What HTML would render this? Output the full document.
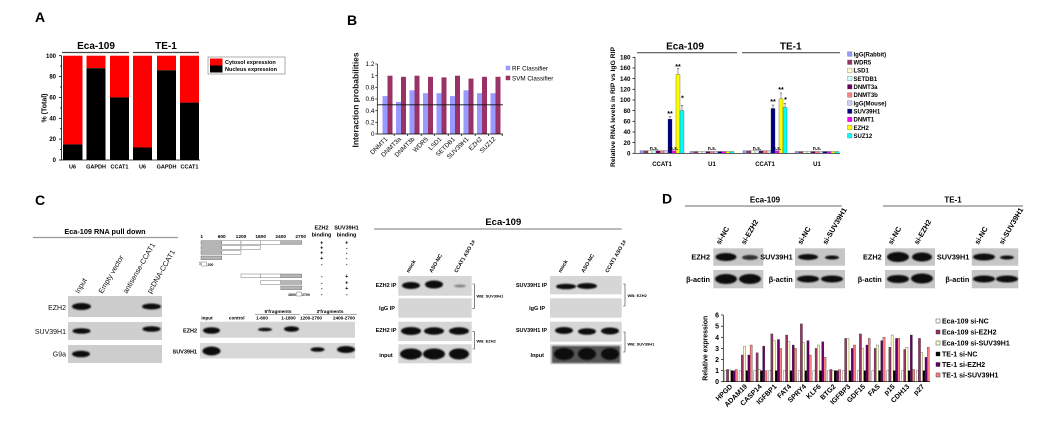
<!DOCTYPE html>
<html><head><meta charset="utf-8"><style>
html,body{margin:0;padding:0;background:#fff;}
svg{display:block;font-family:"Liberation Sans",Arial,sans-serif;}
</style></head><body>
<svg width="1057" height="421" viewBox="0 0 1057 421" xmlns="http://www.w3.org/2000/svg">
<defs>
<filter id="bl" x="-50%" y="-80%" width="200%" height="260%"><feGaussianBlur stdDeviation="0.9"/></filter>
<filter id="bl2" x="-50%" y="-80%" width="200%" height="260%"><feGaussianBlur stdDeviation="0.5"/></filter>
</defs>
<rect width="1057" height="421" fill="#fff"/>

<!-- ============ PANEL A ============ -->
<text x="35" y="22" font-size="14" font-weight="bold">A</text>
<g font-weight="bold" text-anchor="middle" font-size="10">
<text x="96" y="49">Eca-109</text>
<text x="166" y="49">TE-1</text>
</g>
<line x1="62" y1="52.5" x2="129" y2="52.5" stroke="#444" stroke-width="1.2"/>
<line x1="133" y1="52.5" x2="199" y2="52.5" stroke="#444" stroke-width="1.2"/>
<g>
<rect x="63" y="55.7" width="19.5" height="88.7" fill="#ff0000"/><rect x="63" y="144.4" width="19.5" height="15.6" fill="#000"/>
<rect x="86.5" y="55.7" width="19" height="12.5" fill="#ff0000"/><rect x="86.5" y="68.2" width="19" height="91.8" fill="#000"/>
<rect x="110" y="55.7" width="19" height="41.7" fill="#ff0000"/><rect x="110" y="97.4" width="19" height="62.6" fill="#000"/>
<rect x="133" y="55.7" width="19" height="91.8" fill="#ff0000"/><rect x="133" y="147.5" width="19" height="12.5" fill="#000"/>
<rect x="157" y="55.7" width="19" height="14.6" fill="#ff0000"/><rect x="157" y="70.3" width="19" height="89.7" fill="#000"/>
<rect x="180" y="55.7" width="19" height="46.9" fill="#ff0000"/><rect x="180" y="102.6" width="19" height="57.4" fill="#000"/>
</g>
<g stroke="#000" stroke-width="0.8">
<line x1="61.5" y1="55.7" x2="61.5" y2="160"/>
<line x1="61.5" y1="160" x2="200" y2="160"/>
<line x1="59" y1="55.7" x2="61.5" y2="55.7"/><line x1="59" y1="76.6" x2="61.5" y2="76.6"/>
<line x1="59" y1="97.4" x2="61.5" y2="97.4"/><line x1="59" y1="118.3" x2="61.5" y2="118.3"/>
<line x1="59" y1="139.1" x2="61.5" y2="139.1"/><line x1="59" y1="160" x2="61.5" y2="160"/>
<line x1="60" y1="66.1" x2="61.5" y2="66.1"/><line x1="60" y1="87" x2="61.5" y2="87"/>
<line x1="60" y1="107.9" x2="61.5" y2="107.9"/><line x1="60" y1="128.7" x2="61.5" y2="128.7"/>
<line x1="60" y1="149.6" x2="61.5" y2="149.6"/>
</g>
<g font-size="6" font-weight="bold" text-anchor="end">
<text x="56" y="57.8">100</text><text x="56" y="78.7">80</text><text x="56" y="99.5">60</text>
<text x="56" y="120.4">40</text><text x="56" y="141.2">20</text><text x="56" y="162.1">0</text>
</g>
<g font-size="5.5" font-weight="bold" text-anchor="middle">
<text x="72.5" y="168.5">U6</text><text x="96" y="168.5">GAPDH</text><text x="119.5" y="168.5">CCAT1</text>
<text x="142.5" y="168.5">U6</text><text x="166.5" y="168.5">GAPDH</text><text x="189.5" y="168.5">CCAT1</text>
</g>
<text transform="translate(46.5,108) rotate(-90)" text-anchor="middle" font-size="7" font-weight="bold">% (Total)</text>
<rect x="208" y="57" width="77" height="17" fill="#fff" stroke="#777" stroke-width="0.6"/>
<rect x="210" y="58.5" width="12.5" height="7" fill="#ff0000"/>
<rect x="210" y="65.5" width="12.5" height="7" fill="#000"/>
<g font-size="5.5" font-weight="bold">
<text x="225" y="63.8">Cytosol  expression</text>
<text x="225" y="70.8">Nucleus expression</text>
</g>

<!-- ============ PANEL B left ============ -->
<text x="347" y="25" font-size="14" font-weight="bold">B</text>
<g>
<rect x="382.5" y="96.1" width="5" height="37.9" fill="#9999ff"/><rect x="387.5" y="75.7" width="5" height="58.3" fill="#993366"/>
<rect x="396" y="101.9" width="5" height="32.1" fill="#9999ff"/><rect x="401" y="76.8" width="5" height="57.2" fill="#993366"/>
<rect x="409.5" y="90.3" width="5" height="43.7" fill="#9999ff"/><rect x="414.5" y="75.7" width="5" height="58.3" fill="#993366"/>
<rect x="423" y="93.2" width="5" height="40.8" fill="#9999ff"/><rect x="428" y="76.8" width="5" height="57.2" fill="#993366"/>
<rect x="436.5" y="93.2" width="5" height="40.8" fill="#9999ff"/><rect x="441.5" y="77.4" width="5" height="56.6" fill="#993366"/>
<rect x="450" y="96.1" width="5" height="37.9" fill="#9999ff"/><rect x="455" y="75.7" width="5" height="58.3" fill="#993366"/>
<rect x="463.5" y="90.3" width="5" height="43.7" fill="#9999ff"/><rect x="468.5" y="78.6" width="5" height="55.4" fill="#993366"/>
<rect x="477" y="93.2" width="5" height="40.8" fill="#9999ff"/><rect x="482" y="76.8" width="5" height="57.2" fill="#993366"/>
<rect x="490.5" y="93.2" width="5" height="40.8" fill="#9999ff"/><rect x="495.5" y="76.8" width="5" height="57.2" fill="#993366"/>
</g>
<g stroke="#000" stroke-width="0.7">
<line x1="377.3" y1="64" x2="377.3" y2="134"/>
<line x1="377.3" y1="134" x2="503" y2="134"/>
<line x1="375.3" y1="64" x2="377.3" y2="64"/><line x1="375.3" y1="75.7" x2="377.3" y2="75.7"/>
<line x1="375.3" y1="87.3" x2="377.3" y2="87.3"/><line x1="375.3" y1="99" x2="377.3" y2="99"/>
<line x1="375.3" y1="110.7" x2="377.3" y2="110.7"/><line x1="375.3" y1="122.3" x2="377.3" y2="122.3"/>
<line x1="375.3" y1="134" x2="377.3" y2="134"/>
<line x1="394.2" y1="134" x2="394.2" y2="136"/><line x1="407.7" y1="134" x2="407.7" y2="136"/>
<line x1="421.2" y1="134" x2="421.2" y2="136"/><line x1="434.7" y1="134" x2="434.7" y2="136"/>
<line x1="448.2" y1="134" x2="448.2" y2="136"/><line x1="461.7" y1="134" x2="461.7" y2="136"/>
<line x1="475.2" y1="134" x2="475.2" y2="136"/><line x1="488.7" y1="134" x2="488.7" y2="136"/>
<line x1="502.2" y1="134" x2="502.2" y2="136"/>
</g>
<line x1="377.3" y1="104.8" x2="503" y2="104.8" stroke="#111" stroke-width="0.8"/>
<g font-size="6.5" text-anchor="end">
<text x="374.5" y="66.2">1.2</text><text x="374.5" y="77.9">1</text><text x="374.5" y="89.5">0.8</text>
<text x="374.5" y="101.2">0.6</text><text x="374.5" y="112.9">0.4</text><text x="374.5" y="124.5">0.2</text>
<text x="374.5" y="136.2">0</text>
</g>
<g font-size="6.3" text-anchor="end">
<text transform="translate(388,139.5) rotate(-45)">DNMT1</text>
<text transform="translate(401.5,139.5) rotate(-45)">DNMT3a</text>
<text transform="translate(415,139.5) rotate(-45)">DNMT3b</text>
<text transform="translate(428.5,139.5) rotate(-45)">WDR5</text>
<text transform="translate(442,139.5) rotate(-45)">LSD1</text>
<text transform="translate(455.5,139.5) rotate(-45)">SETDB1</text>
<text transform="translate(469,139.5) rotate(-45)">SUV39H1</text>
<text transform="translate(482.5,139.5) rotate(-45)">EZH2</text>
<text transform="translate(496,139.5) rotate(-45)">SUZ12</text>
</g>
<text transform="translate(358.5,100) rotate(-90)" text-anchor="middle" font-size="8.5" font-weight="bold" fill="#111" textLength="95" lengthAdjust="spacingAndGlyphs">Interaction probabilities</text>
<rect x="505.7" y="65.7" width="4.5" height="4.5" fill="#9999ff"/>
<rect x="505.7" y="75.7" width="4.5" height="4.5" fill="#993366"/>
<g font-size="6.3">
<text x="512" y="70.3">RF Classifier</text>
<text x="512" y="80.3">SVM Classifier</text>
</g>

<!-- ============ PANEL B right ============ -->
<g font-weight="bold" text-anchor="middle" font-size="10">
<text x="685" y="49.5">Eca-109</text>
<text x="790.7" y="49.5">TE-1</text>
</g>
<line x1="637" y1="52.7" x2="737" y2="52.7" stroke="#555" stroke-width="1.2"/>
<line x1="742" y1="52.7" x2="840" y2="52.7" stroke="#555" stroke-width="1.2"/>
<g transform="translate(640,153.3) scale(1,-1)" stroke="#333" stroke-width="0.3">
<rect x="0" y="0" width="4" height="2.5" fill="#9999ff"/><rect x="4" y="0" width="4" height="2.5" fill="#993366"/>
<rect x="8" y="0" width="4" height="2.5" fill="#ffffcc"/><rect x="12" y="0" width="4" height="2.5" fill="#ccffff"/>
<rect x="16" y="0" width="4" height="2.5" fill="#660066"/><rect x="20" y="0" width="4" height="2.5" fill="#ff8080"/>
<rect x="24" y="0" width="4" height="2.5" fill="#ccccff"/><rect x="28" y="0" width="4" height="34.1" fill="#000080"/>
<rect x="32" y="0" width="4" height="2.5" fill="#ff00ff"/><rect x="36" y="0" width="4" height="78.9" fill="#ffff00"/>
<rect x="40" y="0" width="4" height="42.7" fill="#00ffff"/>
</g>
<g transform="translate(690,153.3) scale(1,-1)" stroke="#333" stroke-width="0.3">
<rect x="0" y="0" width="4" height="1.8" fill="#9999ff"/><rect x="4" y="0" width="4" height="1.8" fill="#993366"/>
<rect x="8" y="0" width="4" height="1.8" fill="#ffffcc"/><rect x="12" y="0" width="4" height="1.8" fill="#ccffff"/>
<rect x="16" y="0" width="4" height="1.8" fill="#660066"/><rect x="20" y="0" width="4" height="1.8" fill="#ff8080"/>
<rect x="24" y="0" width="4" height="1.8" fill="#ccccff"/><rect x="28" y="0" width="4" height="1.8" fill="#000080"/>
<rect x="32" y="0" width="4" height="1.8" fill="#ff00ff"/><rect x="36" y="0" width="4" height="1.8" fill="#ffff00"/>
<rect x="40" y="0" width="4" height="1.8" fill="#00ffff"/>
</g>
<g transform="translate(743,153.3) scale(1,-1)" stroke="#333" stroke-width="0.3">
<rect x="0" y="0" width="4" height="2.5" fill="#9999ff"/><rect x="4" y="0" width="4" height="2.5" fill="#993366"/>
<rect x="8" y="0" width="4" height="2.5" fill="#ffffcc"/><rect x="12" y="0" width="4" height="2.5" fill="#ccffff"/>
<rect x="16" y="0" width="4" height="2.5" fill="#660066"/><rect x="20" y="0" width="4" height="2.5" fill="#ff8080"/>
<rect x="24" y="0" width="4" height="2.5" fill="#ccccff"/><rect x="28" y="0" width="4" height="44.8" fill="#000080"/>
<rect x="32" y="0" width="4" height="2.5" fill="#ff00ff"/><rect x="36" y="0" width="4" height="54.4" fill="#ffff00"/>
<rect x="40" y="0" width="4" height="45.9" fill="#00ffff"/>
</g>
<g transform="translate(795,153.3) scale(1,-1)" stroke="#333" stroke-width="0.3">
<rect x="0" y="0" width="4" height="1.8" fill="#9999ff"/><rect x="4" y="0" width="4" height="1.8" fill="#993366"/>
<rect x="8" y="0" width="4" height="1.8" fill="#ffffcc"/><rect x="12" y="0" width="4" height="1.8" fill="#ccffff"/>
<rect x="16" y="0" width="4" height="1.8" fill="#660066"/><rect x="20" y="0" width="4" height="1.8" fill="#ff8080"/>
<rect x="24" y="0" width="4" height="1.8" fill="#ccccff"/><rect x="28" y="0" width="4" height="1.8" fill="#000080"/>
<rect x="32" y="0" width="4" height="1.8" fill="#ff00ff"/><rect x="36" y="0" width="4" height="1.8" fill="#ffff00"/>
<rect x="40" y="0" width="4" height="1.8" fill="#00ffff"/>
</g>
<g stroke="#333" stroke-width="0.5">
<path d="M670 119.2V116.5M668.8 116.5H671.2"/>
<path d="M678 74.4V68.5M676.8 68.5H679.2"/>
<path d="M682 110.6V105.3M680.8 105.3H683.2"/>
<path d="M773 108.5V105M771.8 105H774.2"/>
<path d="M781 98.9V93M779.8 93H782.2"/>
<path d="M785 107.4V103.2M783.8 103.2H786.2"/>
</g>
<g font-size="7" font-weight="bold" text-anchor="middle">
<text x="670" y="116">**</text><text x="678" y="69">**</text><text x="682.5" y="100.5">*</text>
<text x="773" y="104">**</text><text x="781" y="92">**</text><text x="785.5" y="102">*</text>
</g>
<g font-size="5" font-weight="bold" text-anchor="middle">
<text x="654" y="150">n.s.</text><text x="674" y="150">n.s.</text><text x="712" y="150">n.s.</text>
<text x="757" y="150">n.s.</text><text x="777" y="150">n.s.</text><text x="817" y="150">n.s.</text>
</g>
<g stroke="#000" stroke-width="0.7">
<line x1="635" y1="57.3" x2="635" y2="153.3"/>
<line x1="635" y1="153.3" x2="840" y2="153.3"/>
<line x1="632.5" y1="57.3" x2="635" y2="57.3"/><line x1="632.5" y1="68" x2="635" y2="68"/>
<line x1="632.5" y1="78.6" x2="635" y2="78.6"/><line x1="632.5" y1="89.3" x2="635" y2="89.3"/>
<line x1="632.5" y1="100" x2="635" y2="100"/><line x1="632.5" y1="110.6" x2="635" y2="110.6"/>
<line x1="632.5" y1="121.3" x2="635" y2="121.3"/><line x1="632.5" y1="132" x2="635" y2="132"/>
<line x1="632.5" y1="142.6" x2="635" y2="142.6"/><line x1="632.5" y1="153.3" x2="635" y2="153.3"/>
</g>
<g font-size="6.3" font-weight="bold" text-anchor="end">
<text x="630.5" y="59.5">180</text><text x="630.5" y="70.2">160</text><text x="630.5" y="80.8">140</text>
<text x="630.5" y="91.5">120</text><text x="630.5" y="102.2">100</text><text x="630.5" y="112.8">80</text>
<text x="630.5" y="123.5">60</text><text x="630.5" y="134.2">40</text><text x="630.5" y="144.8">20</text>
<text x="630.5" y="155.5">0</text>
</g>
<g font-size="6" font-weight="bold" text-anchor="middle">
<text x="662" y="166">CCAT1</text><text x="712" y="166">U1</text>
<text x="765" y="166">CCAT1</text><text x="817" y="166">U1</text>
</g>
<text transform="translate(615,107) rotate(-90)" text-anchor="middle" font-size="6.3" font-weight="bold" textLength="120" lengthAdjust="spacingAndGlyphs">Relative RNA levels in RIP vs IgG RIP</text>
<g stroke="#555" stroke-width="0.3">
<rect x="847.5" y="51.8" width="4.5" height="4.5" fill="#9999ff"/>
<rect x="847.5" y="60" width="4.5" height="4.5" fill="#993366"/>
<rect x="847.5" y="68.1" width="4.5" height="4.5" fill="#ffffcc"/>
<rect x="847.5" y="76.3" width="4.5" height="4.5" fill="#ccffff"/>
<rect x="847.5" y="84.5" width="4.5" height="4.5" fill="#660066"/>
<rect x="847.5" y="92.7" width="4.5" height="4.5" fill="#ff8080"/>
<rect x="847.5" y="100.8" width="4.5" height="4.5" fill="#ccccff"/>
<rect x="847.5" y="109" width="4.5" height="4.5" fill="#000080"/>
<rect x="847.5" y="117.2" width="4.5" height="4.5" fill="#ff00ff"/>
<rect x="847.5" y="125.3" width="4.5" height="4.5" fill="#ffff00"/>
<rect x="847.5" y="133.5" width="4.5" height="4.5" fill="#00ffff"/>
</g>
<g font-size="6" font-weight="bold">
<text x="853.5" y="56.3">IgG(Rabbit)</text>
<text x="853.5" y="64.5">WDR5</text>
<text x="853.5" y="72.6">LSD1</text>
<text x="853.5" y="80.8">SETDB1</text>
<text x="853.5" y="89">DNMT3a</text>
<text x="853.5" y="97.2">DNMT3b</text>
<text x="853.5" y="105.3">IgG(Mouse)</text>
<text x="853.5" y="113.5">SUV39H1</text>
<text x="853.5" y="121.7">DNMT1</text>
<text x="853.5" y="129.8">EZH2</text>
<text x="853.5" y="138">SUZ12</text>
</g>

<!-- ============ PANEL C left ============ -->
<text x="35" y="205" font-size="14" font-weight="bold">C</text>
<text x="105" y="234" text-anchor="middle" font-size="7.3" font-weight="bold">Eca-109 RNA pull down</text>
<line x1="33" y1="237.5" x2="178" y2="237.5" stroke="#999" stroke-width="1.3"/>
<g font-size="7.3" fill="#111">
<text transform="translate(79,294) rotate(-60)">Input</text>
<text transform="translate(102.5,294) rotate(-60)">Empty vector</text>
<text transform="translate(127,294) rotate(-60)">antisense-CCAT1</text>
<text transform="translate(151,294) rotate(-60)">pcDNA-CCAT1</text>
</g>
<rect x="68" y="296" width="94" height="21" fill="#cccccc"/>
<rect x="68" y="322" width="94" height="18" fill="#cfcfcf"/>
<rect x="68" y="345" width="94" height="18" fill="#cdcdcd"/>
<g fill="#111" filter="url(#bl)">
<ellipse cx="81.5" cy="306.5" rx="9.5" ry="3.5"/>
<ellipse cx="151.5" cy="306.5" rx="9.5" ry="3"/>
<ellipse cx="81.5" cy="331" rx="9" ry="2.8"/>
<ellipse cx="151.5" cy="329" rx="9" ry="2.8"/>
<ellipse cx="81" cy="354" rx="9" ry="3.3"/>
</g>
<g font-size="7" text-anchor="end" fill="#111">
<text x="66" y="310">EZH2</text>
<text x="66" y="334">SUV39H1</text>
<text x="66" y="356.5">G9a</text>
</g>

<!-- ============ PANEL C middle ============ -->
<g font-size="4.8" font-weight="bold" text-anchor="middle">
<text x="201.7" y="238">1</text><text x="221.7" y="238">600</text><text x="241" y="238">1200</text>
<text x="260.7" y="238">1800</text><text x="280.7" y="238">2400</text><text x="300.7" y="238">2700</text>
</g>
<g stroke="#555" stroke-width="0.4">
<rect x="201" y="240.7" width="20.7" height="3.6" fill="#b5b5b5"/><rect x="221.7" y="240.7" width="19.3" height="3.6" fill="#fff"/>
<rect x="241" y="240.7" width="19.7" height="3.6" fill="#fff"/><rect x="260.7" y="240.7" width="20" height="3.6" fill="#fff"/>
<rect x="280.7" y="240.7" width="21" height="3.6" fill="#b5b5b5"/>
<rect x="201" y="245.7" width="20.7" height="3.6" fill="#b5b5b5"/><rect x="221.7" y="245.7" width="19.3" height="3.6" fill="#fff"/>
<rect x="241" y="245.7" width="19.7" height="3.6" fill="#fff"/>
<rect x="201" y="250.7" width="20.7" height="3.6" fill="#b5b5b5"/><rect x="221.7" y="250.7" width="19.3" height="3.6" fill="#fff"/>
<rect x="201" y="256" width="20.7" height="3.6" fill="#b5b5b5"/>
<rect x="201.7" y="262" width="5" height="4" fill="#fff"/>
<rect x="241" y="274" width="19.7" height="3.6" fill="#fff"/><rect x="260.7" y="274" width="20" height="3.6" fill="#fff"/>
<rect x="280.7" y="274" width="21" height="3.6" fill="#b5b5b5"/>
<rect x="260.7" y="280.7" width="20" height="3.6" fill="#fff"/><rect x="280.7" y="280.7" width="21" height="3.6" fill="#b5b5b5"/>
<rect x="280.7" y="286" width="21" height="3.6" fill="#b5b5b5"/>
<rect x="296.7" y="292" width="4.5" height="4" fill="#fff"/>
</g>
<g font-size="3.5" font-weight="bold">
<text x="201" y="264.5" text-anchor="end">1</text><text x="207.5" y="266">200</text>
<text x="296" y="296" text-anchor="end">2600</text><text x="302" y="296">2700</text>
</g>
<g font-size="5.5" font-weight="bold" text-anchor="middle">
<text x="321.5" y="229.5">EZH2</text><text x="321.5" y="236.5">binding</text>
<text x="346.5" y="229.5">SUV39H1</text><text x="346.5" y="236.5">binding</text>
</g>
<g font-size="5.5" font-weight="bold" text-anchor="middle">
<text x="321.7" y="244.3">+</text><text x="346.7" y="244.3">+</text>
<text x="321.7" y="249.3">+</text><text x="346.7" y="249.3">-</text>
<text x="321.7" y="254.3">+</text><text x="346.7" y="254.3">-</text>
<text x="321.7" y="259.8">+</text><text x="346.7" y="259.8">-</text>
<text x="321.7" y="265.8">-</text><text x="346.7" y="265.8">-</text>
<text x="321.7" y="277.8">-</text><text x="346.7" y="277.8">+</text>
<text x="321.7" y="284.3">-</text><text x="346.7" y="284.3">+</text>
<text x="321.7" y="289.8">-</text><text x="346.7" y="289.8">+</text>
<text x="321.7" y="295.8">-</text><text x="346.7" y="295.8">-</text>
</g>
<g font-size="4.8" font-weight="bold" text-anchor="middle">
<text x="278" y="313">5'fragments</text>
<text x="330" y="313">3'fragments</text>
</g>
<line x1="255" y1="314.5" x2="300" y2="314.5" stroke="#555" stroke-width="0.5"/>
<line x1="303" y1="314.5" x2="357" y2="314.5" stroke="#555" stroke-width="0.5"/>
<g font-size="4.6" font-weight="bold" text-anchor="middle">
<text x="207" y="319.6">input</text><text x="236.7" y="319.6">control</text>
<text x="262" y="319.6">1-600</text><text x="288.5" y="319.6">1-1800</text>
<text x="311" y="319.6">1200-2700</text><text x="344" y="319.6">2400-2700</text>
</g>
<rect x="200" y="321.7" width="155" height="16" fill="#d5d5d5"/>
<rect x="200" y="343" width="155" height="15.5" fill="#d8d8d8"/>
<g fill="#111" filter="url(#bl)">
<ellipse cx="211.5" cy="330.5" rx="8.5" ry="3.3"/>
<ellipse cx="265" cy="329.5" rx="7" ry="1.8"/>
<ellipse cx="291.5" cy="329" rx="7.5" ry="2.8"/>
<ellipse cx="211.5" cy="351" rx="9" ry="4.5"/>
<ellipse cx="317.5" cy="349.5" rx="7" ry="2.3"/>
<ellipse cx="346" cy="349.5" rx="9" ry="3.5"/>
</g>
<g font-size="5.5" font-weight="bold" text-anchor="end">
<text x="197" y="332.5">EZH2</text>
<text x="197" y="353.5">SUV39H1</text>
</g>

<!-- ============ PANEL C right ============ -->
<text x="503.3" y="225" text-anchor="middle" font-size="9.5" font-weight="bold">Eca-109</text>
<line x1="374" y1="229" x2="621.7" y2="229" stroke="#777" stroke-width="1"/>
<g font-size="5.2" font-weight="bold">
<text transform="translate(409,273) rotate(-60)">mock</text>
<text transform="translate(432,273) rotate(-60)">ASO-NC</text>
<text transform="translate(457,273) rotate(-60)">CCAT1 ASO 1#</text>
<text transform="translate(561,273) rotate(-60)">mock</text>
<text transform="translate(584,273) rotate(-60)">ASO-NC</text>
<text transform="translate(608,273) rotate(-60)">CCAT1 ASO 1#</text>
</g>
<g fill="#d6d6d6">
<rect x="398.3" y="276" width="73.4" height="19.7"/>
<rect x="398.3" y="298.3" width="73.4" height="19.4"/>
<rect x="398.3" y="321.7" width="73.4" height="19.3"/>
<rect x="398.3" y="344.3" width="73.4" height="19"/>
<rect x="550" y="276" width="71.7" height="18.3"/>
<rect x="550" y="298.3" width="71.7" height="19.4"/>
<rect x="550" y="321.7" width="71.7" height="20"/>
<rect x="550" y="344.3" width="71.7" height="20"/>
</g>
<rect x="552" y="346" width="68" height="17" fill="#555" filter="url(#bl)"/>
<g fill="#111" filter="url(#bl)">
<ellipse cx="411" cy="285.5" rx="9" ry="3.5"/>
<ellipse cx="434" cy="284.5" rx="9" ry="4"/>
<ellipse cx="411" cy="331" rx="10" ry="4"/>
<ellipse cx="434" cy="331" rx="10" ry="3.8"/>
<ellipse cx="459" cy="331" rx="10" ry="3.8"/>
<ellipse cx="411" cy="354" rx="11" ry="5.5"/>
<ellipse cx="434" cy="354" rx="11" ry="5.5"/>
<ellipse cx="459" cy="354" rx="10" ry="5.5"/>
<ellipse cx="566" cy="286.5" rx="10" ry="2.8"/>
<ellipse cx="587" cy="286" rx="10" ry="3"/>
<ellipse cx="564" cy="330.5" rx="9" ry="3.5"/>
<ellipse cx="587" cy="331.5" rx="9" ry="3.3"/>
<ellipse cx="610" cy="331" rx="9" ry="3.5"/>
<ellipse cx="564" cy="354" rx="10" ry="6"/>
<ellipse cx="587" cy="354" rx="9" ry="6"/>
<ellipse cx="610" cy="354" rx="9" ry="6"/>
</g>
<ellipse cx="460" cy="286" rx="6" ry="1.5" fill="#888" filter="url(#bl)"/>
<g font-size="5.5" font-weight="bold" text-anchor="middle">
<text x="386" y="287">EZH2 IP</text>
<text x="387" y="310">IgG IP</text>
<text x="386" y="332">EZH2 IP</text>
<text x="386" y="357">input</text>
</g>
<g font-size="5.5" font-weight="bold" text-anchor="end">
<text x="547" y="287">SUV39H1 IP</text>
<text x="545" y="310">IgG IP</text>
<text x="547" y="332">SUV39H1 IP</text>
<text x="544" y="357">Input</text>
</g>
<g stroke="#333" stroke-width="0.6" fill="none">
<path d="M472.5 284H474.3V308.3H472.5"/>
<path d="M472.5 331.7H474.3V349H472.5"/>
<path d="M623.2 284H625V306H623.2"/>
<path d="M623.2 332H625V352H623.2"/>
</g>
<g font-size="4" font-weight="bold">
<text x="476.5" y="297.5">WB: SUV39H1</text>
<text x="476.5" y="342.5">WB: EZH2</text>
<text x="627.5" y="297">WB: EZH2</text>
<text x="627.5" y="345.5">WB: SUV39H1</text>
</g>

<!-- ============ PANEL D top ============ -->
<text x="662" y="203.5" font-size="14" font-weight="bold">D</text>
<g font-size="8" font-weight="bold" text-anchor="middle">
<text x="765" y="202.5">Eca-109</text>
<text x="953" y="202.5">TE-1</text>
</g>
<line x1="685" y1="206" x2="841.7" y2="206" stroke="#888" stroke-width="1.2"/>
<line x1="883" y1="206" x2="1023" y2="206" stroke="#888" stroke-width="1.2"/>
<g font-size="7.3" font-weight="bold">
<text transform="translate(720,245) rotate(-60)">si-NC</text>
<text transform="translate(745,245) rotate(-60)">si-EZH2</text>
<text transform="translate(801.5,245) rotate(-60)">si-NC</text>
<text transform="translate(826.5,245) rotate(-60)">si-SUV39H1</text>
<text transform="translate(892,245) rotate(-60)">si-NC</text>
<text transform="translate(918,245) rotate(-60)">si-EZH2</text>
<text transform="translate(978.5,245) rotate(-60)">si-NC</text>
<text transform="translate(1003,245) rotate(-60)">si-SUV39H1</text>
</g>
<g fill="#c6c6c6">
<rect x="713.3" y="248.3" width="50" height="17.4"/>
<rect x="713.3" y="270" width="50" height="18.3"/>
<rect x="795" y="248.3" width="50" height="17.4"/>
<rect x="795" y="270" width="50" height="18.3"/>
<rect x="885" y="248.3" width="50" height="17.4"/>
<rect x="885" y="270" width="50" height="18.3"/>
<rect x="971.7" y="248.3" width="46.6" height="17.4"/>
<rect x="971.7" y="270" width="46.6" height="18.3"/>
</g>
<g fill="#111" filter="url(#bl)">
<ellipse cx="726" cy="257" rx="10.5" ry="4"/>
<ellipse cx="726" cy="279" rx="11" ry="5"/>
<ellipse cx="750" cy="279" rx="11" ry="5"/>
<ellipse cx="808" cy="257" rx="10" ry="3"/>
<ellipse cx="832" cy="257.5" rx="7" ry="2"/>
<ellipse cx="808" cy="279" rx="11" ry="3.5"/>
<ellipse cx="832" cy="279" rx="11" ry="3.5"/>
<ellipse cx="898" cy="257" rx="11" ry="5"/>
<ellipse cx="922" cy="257" rx="10" ry="4.5"/>
<ellipse cx="898" cy="279" rx="11" ry="4"/>
<ellipse cx="922" cy="278.5" rx="11" ry="5"/>
<ellipse cx="984" cy="257" rx="11" ry="3.5"/>
<ellipse cx="1007" cy="257.5" rx="7" ry="2"/>
<ellipse cx="984" cy="279" rx="11" ry="3.5"/>
<ellipse cx="1007" cy="279" rx="11" ry="3.5"/>
</g>
<ellipse cx="750" cy="257.5" rx="8" ry="2.5" fill="#333" filter="url(#bl)"/>
<g font-size="7.3" font-weight="bold" text-anchor="end">
<text x="710" y="259.5">EZH2</text>
<text x="710" y="282">β-actin</text>
<text x="792.7" y="259.5">SUV39H1</text>
<text x="792.7" y="282">β-actin</text>
<text x="881.7" y="259.5">EZH2</text>
<text x="881.7" y="282">β-actin</text>
<text x="969.3" y="259.5">SUV39H1</text>
<text x="969.3" y="282">β-actin</text>
</g>

<!-- ============ PANEL D bottom ============ -->
<g stroke="#222" stroke-width="0.3">
<g transform="translate(724.3,381.7) scale(1,-1)"><rect x="0" width="2.2" height="11.1" fill="#fff"/><rect x="2.2" width="2.2" height="12.2" fill="#993366"/><rect x="4.4" width="2.2" height="11.7" fill="#ffffcc"/><rect x="6.6" width="2.2" height="11.1" fill="#000"/><rect x="8.8" width="2.2" height="11.1" fill="#660066"/><rect x="11" width="2.2" height="12.2" fill="#ff8080"/></g>
<g transform="translate(739.06,381.7) scale(1,-1)"><rect x="0" width="2.2" height="11.1" fill="#fff"/><rect x="2.2" width="2.2" height="26.7" fill="#993366"/><rect x="4.4" width="2.2" height="35.6" fill="#ffffcc"/><rect x="6.6" width="2.2" height="11.1" fill="#000"/><rect x="8.8" width="2.2" height="26.7" fill="#660066"/><rect x="11" width="2.2" height="36.7" fill="#ff8080"/></g>
<g transform="translate(753.82,381.7) scale(1,-1)"><rect x="0" width="2.2" height="11.1" fill="#fff"/><rect x="2.2" width="2.2" height="28.9" fill="#993366"/><rect x="4.4" width="2.2" height="12.2" fill="#ffffcc"/><rect x="6.6" width="2.2" height="11.1" fill="#000"/><rect x="8.8" width="2.2" height="35.6" fill="#660066"/><rect x="11" width="2.2" height="11.1" fill="#ff8080"/></g>
<g transform="translate(768.58,381.7) scale(1,-1)"><rect x="0" width="2.2" height="11.1" fill="#fff"/><rect x="2.2" width="2.2" height="47.8" fill="#993366"/><rect x="4.4" width="2.2" height="41.1" fill="#ffffcc"/><rect x="6.6" width="2.2" height="11.1" fill="#000"/><rect x="8.8" width="2.2" height="42.2" fill="#660066"/><rect x="11" width="2.2" height="33.3" fill="#ff8080"/></g>
<g transform="translate(783.34,381.7) scale(1,-1)"><rect x="0" width="2.2" height="11.1" fill="#fff"/><rect x="2.2" width="2.2" height="46.7" fill="#993366"/><rect x="4.4" width="2.2" height="40" fill="#ffffcc"/><rect x="6.6" width="2.2" height="11.1" fill="#000"/><rect x="8.8" width="2.2" height="36.7" fill="#660066"/><rect x="11" width="2.2" height="33.3" fill="#ff8080"/></g>
<g transform="translate(798.1,381.7) scale(1,-1)"><rect x="0" width="2.2" height="11.1" fill="#fff"/><rect x="2.2" width="2.2" height="57.8" fill="#993366"/><rect x="4.4" width="2.2" height="38.9" fill="#ffffcc"/><rect x="6.6" width="2.2" height="11.1" fill="#000"/><rect x="8.8" width="2.2" height="41.1" fill="#660066"/><rect x="11" width="2.2" height="26.7" fill="#ff8080"/></g>
<g transform="translate(812.86,381.7) scale(1,-1)"><rect x="0" width="2.2" height="11.1" fill="#fff"/><rect x="2.2" width="2.2" height="33.3" fill="#993366"/><rect x="4.4" width="2.2" height="36.7" fill="#ffffcc"/><rect x="6.6" width="2.2" height="11.1" fill="#000"/><rect x="8.8" width="2.2" height="40" fill="#660066"/><rect x="11" width="2.2" height="24.4" fill="#ff8080"/></g>
<g transform="translate(827.62,381.7) scale(1,-1)"><rect x="0" width="2.2" height="11.1" fill="#fff"/><rect x="2.2" width="2.2" height="12.2" fill="#993366"/><rect x="4.4" width="2.2" height="11.1" fill="#ffffcc"/><rect x="6.6" width="2.2" height="11.1" fill="#000"/><rect x="8.8" width="2.2" height="11.1" fill="#660066"/><rect x="11" width="2.2" height="12.2" fill="#ff8080"/></g>
<g transform="translate(842.38,381.7) scale(1,-1)"><rect x="0" width="2.2" height="11.1" fill="#fff"/><rect x="2.2" width="2.2" height="43.3" fill="#993366"/><rect x="4.4" width="2.2" height="43.3" fill="#ffffcc"/><rect x="6.6" width="2.2" height="11.1" fill="#000"/><rect x="8.8" width="2.2" height="33.3" fill="#660066"/><rect x="11" width="2.2" height="36.7" fill="#ff8080"/></g>
<g transform="translate(857.14,381.7) scale(1,-1)"><rect x="0" width="2.2" height="11.1" fill="#fff"/><rect x="2.2" width="2.2" height="47.8" fill="#993366"/><rect x="4.4" width="2.2" height="33.3" fill="#ffffcc"/><rect x="6.6" width="2.2" height="11.1" fill="#000"/><rect x="8.8" width="2.2" height="36.7" fill="#660066"/><rect x="11" width="2.2" height="43.3" fill="#ff8080"/></g>
<g transform="translate(871.9,381.7) scale(1,-1)"><rect x="0" width="2.2" height="11.1" fill="#fff"/><rect x="2.2" width="2.2" height="33.3" fill="#993366"/><rect x="4.4" width="2.2" height="36.7" fill="#ffffcc"/><rect x="6.6" width="2.2" height="11.1" fill="#000"/><rect x="8.8" width="2.2" height="41.1" fill="#660066"/><rect x="11" width="2.2" height="44.4" fill="#ff8080"/></g>
<g transform="translate(886.66,381.7) scale(1,-1)"><rect x="0" width="2.2" height="11.1" fill="#fff"/><rect x="2.2" width="2.2" height="34.4" fill="#993366"/><rect x="4.4" width="2.2" height="46.7" fill="#ffffcc"/><rect x="6.6" width="2.2" height="11.1" fill="#000"/><rect x="8.8" width="2.2" height="43.3" fill="#660066"/><rect x="11" width="2.2" height="43.3" fill="#ff8080"/></g>
<g transform="translate(901.42,381.7) scale(1,-1)"><rect x="0" width="2.2" height="11.1" fill="#fff"/><rect x="2.2" width="2.2" height="32.2" fill="#993366"/><rect x="4.4" width="2.2" height="34.4" fill="#ffffcc"/><rect x="6.6" width="2.2" height="11.1" fill="#000"/><rect x="8.8" width="2.2" height="46.7" fill="#660066"/><rect x="11" width="2.2" height="12.2" fill="#ff8080"/></g>
<g transform="translate(916.18,381.7) scale(1,-1)"><rect x="0" width="2.2" height="11.1" fill="#fff"/><rect x="2.2" width="2.2" height="43.3" fill="#993366"/><rect x="4.4" width="2.2" height="28.9" fill="#ffffcc"/><rect x="6.6" width="2.2" height="11.1" fill="#000"/><rect x="8.8" width="2.2" height="24.4" fill="#660066"/><rect x="11" width="2.2" height="34.4" fill="#ff8080"/></g>
</g>
<g stroke="#000" stroke-width="0.7">
<line x1="723.3" y1="315" x2="723.3" y2="381.7"/>
<line x1="723.3" y1="381.7" x2="930" y2="381.7"/>
<line x1="721" y1="315" x2="723.3" y2="315"/><line x1="721" y1="326.2" x2="723.3" y2="326.2"/>
<line x1="721" y1="337.3" x2="723.3" y2="337.3"/><line x1="721" y1="348.4" x2="723.3" y2="348.4"/>
<line x1="721" y1="359.5" x2="723.3" y2="359.5"/><line x1="721" y1="370.6" x2="723.3" y2="370.6"/>
<line x1="721" y1="381.7" x2="723.3" y2="381.7"/>
</g>
<g font-size="7" font-weight="bold" text-anchor="end">
<text x="719" y="317.5">6</text><text x="719" y="328.7">5</text><text x="719" y="339.8">4</text>
<text x="719" y="350.9">3</text><text x="719" y="362">2</text><text x="719" y="373.1">1</text>
<text x="719" y="384.2">0</text>
</g>
<text transform="translate(707.5,348.3) rotate(-90)" text-anchor="middle" font-size="7" font-weight="bold" textLength="65" lengthAdjust="spacingAndGlyphs">Relative expression</text>
<g font-size="7" font-weight="bold" text-anchor="end">
<text transform="translate(732.8,387) rotate(-45)">HPGD</text>
<text transform="translate(747.6,387) rotate(-45)">ADAM19</text>
<text transform="translate(762.3,387) rotate(-45)">CASP14</text>
<text transform="translate(777.1,387) rotate(-45)">IGFBP1</text>
<text transform="translate(791.8,387) rotate(-45)">FAT4</text>
<text transform="translate(806.6,387) rotate(-45)">SPRY4</text>
<text transform="translate(821.4,387) rotate(-45)">KLF6</text>
<text transform="translate(836.1,387) rotate(-45)">BTG2</text>
<text transform="translate(850.9,387) rotate(-45)">IGFBP3</text>
<text transform="translate(865.6,387) rotate(-45)">GDF15</text>
<text transform="translate(880.4,387) rotate(-45)">FAS</text>
<text transform="translate(895.2,387) rotate(-45)">p15</text>
<text transform="translate(909.9,387) rotate(-45)">CDH13</text>
<text transform="translate(924.7,387) rotate(-45)">p27</text>
</g>
<g stroke="#222" stroke-width="0.4">
<rect x="936" y="319" width="4" height="4" fill="#fff"/>
<rect x="936" y="330" width="4" height="4" fill="#993366"/>
<rect x="936" y="341" width="4" height="4" fill="#ffffcc"/>
<rect x="936" y="352" width="4" height="4" fill="#000"/>
<rect x="936" y="362.5" width="4" height="4" fill="#660066"/>
<rect x="936" y="373" width="4" height="4" fill="#ff8080"/>
</g>
<g font-size="7" font-weight="bold">
<text x="942" y="323.5">Eca-109 si-NC</text>
<text x="942" y="334.5">Eca-109 si-EZH2</text>
<text x="942" y="345.5">Eca-109 si-SUV39H1</text>
<text x="942" y="356.5">TE-1 si-NC</text>
<text x="942" y="367">TE-1 si-EZH2</text>
<text x="942" y="377.5">TE-1 si-SUV39H1</text>
</g>
</svg>
</body></html>
